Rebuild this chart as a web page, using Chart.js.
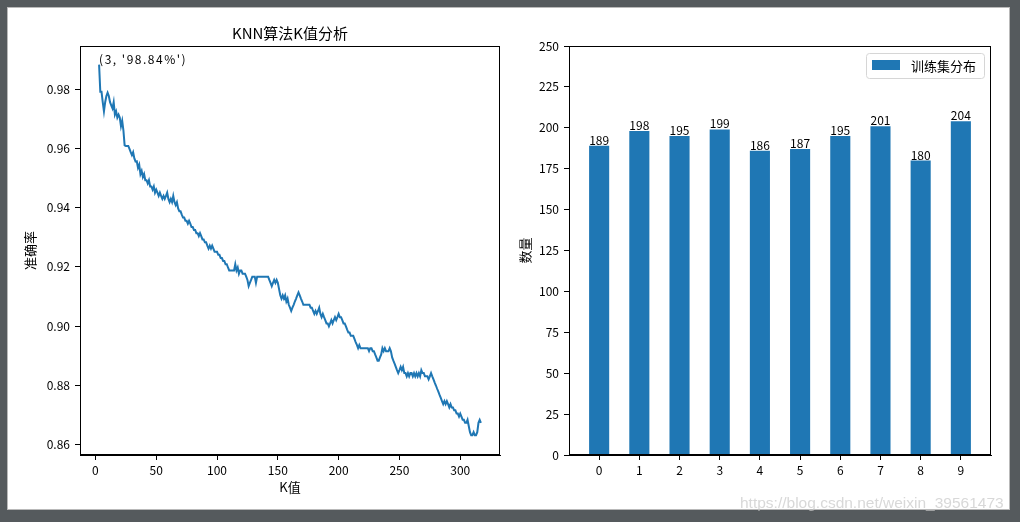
<!DOCTYPE html>
<html>
<head>
<meta charset="utf-8">
<script src="https://cdn.jsdelivr.net/npm/chart.js@4.4.1/dist/chart.umd.min.js"></script>
<style>
    html, body { margin: 0; padding: 0; }
    body { width: 1020px; height: 522px; background: #555a5d; position: relative; overflow: hidden; }
    #frame { position: absolute; left: 7px; top: 7px; width: 1001px; height: 501px; background: #fff; border: 1px solid #b9b9b9; }
    .wrap { position: absolute; top: 0; }
    #left-wrap { left: 0; }
    #right-wrap { left: 504px; }
    #watermark {
        position: absolute; left: 740px; top: 494px;
        font: 15.5px "Liberation Sans", Arial, sans-serif;
        color: rgba(200, 200, 200, 0.7); white-space: nowrap;
    }
</style>
</head>
<body>
<div id="frame">
    <div class="wrap" id="left-wrap"><canvas id="knnChart" width="500" height="500"></canvas></div>
    <div class="wrap" id="right-wrap"><canvas id="trainChart" width="496" height="500"></canvas></div>
</div>
<div id="watermark">https://blog.csdn.net/weixin_39561473</div>
<script>
// --- data ---
const kStart = 3;
// accuracy for K = 3 .. 317
const accuracy = [
    0.9884, 0.9792, 0.9792, 0.9757, 0.9726, 0.9757, 0.9778, 0.9789, 0.9778, 0.9757,
    0.9746, 0.9736, 0.9757, 0.9715, 0.9726, 0.9705, 0.9715, 0.9705, 0.9676, 0.9694,
    0.9662, 0.9611, 0.9609, 0.9609, 0.9609, 0.9599, 0.9588, 0.9578, 0.9588, 0.9567,
    0.9556, 0.9557, 0.9535, 0.9546, 0.9514, 0.9525, 0.9504, 0.9514, 0.9493, 0.9493,
    0.9482, 0.9493, 0.9472, 0.9472, 0.9461, 0.9472, 0.9451, 0.9461, 0.9451, 0.9440,
    0.9451, 0.9440, 0.9430, 0.9440, 0.9430, 0.9440, 0.9451, 0.9430, 0.9419, 0.9430,
    0.9419, 0.9440, 0.9419, 0.9409, 0.9419, 0.9398, 0.9388, 0.9388, 0.9377, 0.9367,
    0.9367, 0.9356, 0.9356, 0.9346, 0.9356, 0.9346, 0.9335, 0.9335, 0.9325, 0.9325,
    0.9314, 0.9314, 0.9304, 0.9314, 0.9304, 0.9293, 0.9293, 0.9283, 0.9283, 0.9272,
    0.9262, 0.9272, 0.9262, 0.9272, 0.9262, 0.9251, 0.9251, 0.9251, 0.9241, 0.9241,
    0.9230, 0.9230, 0.9220, 0.9220, 0.9209, 0.9209, 0.9198, 0.9188, 0.9188, 0.9188,
    0.9188, 0.9188, 0.9209, 0.9188, 0.9198, 0.9177, 0.9188, 0.9188, 0.9177, 0.9177,
    0.9177, 0.9167, 0.9156, 0.9135, 0.9146, 0.9156, 0.9167, 0.9167, 0.9167, 0.9146,
    0.9167, 0.9167, 0.9167, 0.9167, 0.9167, 0.9167, 0.9167, 0.9167, 0.9167, 0.9167,
    0.9156, 0.9146, 0.9135, 0.9146, 0.9156, 0.9146, 0.9156, 0.9146, 0.9125, 0.9104,
    0.9093, 0.9104, 0.9093, 0.9104, 0.9083, 0.9093, 0.9072, 0.9062, 0.9051, 0.9062,
    0.9072, 0.9083, 0.9093, 0.9104, 0.9114, 0.9104, 0.9093, 0.9083, 0.9072, 0.9072,
    0.9072, 0.9072, 0.9072, 0.9072, 0.9062, 0.9062, 0.9051, 0.9041, 0.9051, 0.9041,
    0.9051, 0.9062, 0.9041, 0.9030, 0.9041, 0.9030, 0.9020, 0.9009, 0.9009, 0.8999,
    0.9009, 0.9020, 0.9009, 0.9020, 0.9030, 0.9020, 0.9030, 0.9041, 0.9030, 0.9030,
    0.9020, 0.9009, 0.9009, 0.8999, 0.8988, 0.8978, 0.8978, 0.8967, 0.8967, 0.8967,
    0.8957, 0.8946, 0.8936, 0.8925, 0.8936, 0.8925, 0.8925, 0.8925, 0.8925, 0.8925,
    0.8925, 0.8925, 0.8915, 0.8925, 0.8925, 0.8915, 0.8915, 0.8904, 0.8894, 0.8883,
    0.8883, 0.8894, 0.8904, 0.8925, 0.8915, 0.8925, 0.8915, 0.8915, 0.8915, 0.8925,
    0.8915, 0.8894, 0.8883, 0.8873, 0.8862, 0.8851, 0.8841, 0.8851, 0.8862, 0.8851,
    0.8862, 0.8841, 0.8841, 0.8830, 0.8841, 0.8830, 0.8841, 0.8841, 0.8830, 0.8841,
    0.8830, 0.8841, 0.8830, 0.8841, 0.8830, 0.8851, 0.8841, 0.8841, 0.8830, 0.8830,
    0.8830, 0.8820, 0.8830, 0.8841, 0.8830, 0.8820, 0.8809, 0.8799, 0.8788, 0.8778,
    0.8767, 0.8757, 0.8746, 0.8736, 0.8746, 0.8736, 0.8746, 0.8736, 0.8725, 0.8736,
    0.8725, 0.8725, 0.8715, 0.8715, 0.8704, 0.8704, 0.8694, 0.8704, 0.8694, 0.8683,
    0.8683, 0.8673, 0.8673, 0.8683, 0.8662, 0.8641, 0.8631, 0.8631, 0.8641, 0.8631,
    0.8631, 0.8641, 0.8673, 0.8683, 0.8673
];
const kValues = accuracy.map((_, i) => kStart + i);
const kTicks = [0, 50, 100, 150, 200, 250, 300];
const accTicks = [0.86, 0.88, 0.90, 0.92, 0.94, 0.96, 0.98];

const digits = [0, 1, 2, 3, 4, 5, 6, 7, 8, 9];
const trainCounts = [189, 198, 195, 199, 186, 187, 195, 201, 180, 204];
const countTicks = [0, 25, 50, 75, 100, 125, 150, 175, 200, 225, 250];

const BLUE = '#1f77b4';
const FONT = '"Noto Sans CJK SC", "DejaVu Sans", sans-serif';

Chart.defaults.font.family = FONT;
Chart.defaults.font.size = 12;
Chart.defaults.color = '#000';
Chart.defaults.animation = false;

// matplotlib-style closed axes box
const axesBox = {
    id: 'axesBox',
    afterDraw(chart) {
        const { ctx, chartArea: a } = chart;
        ctx.save();
        ctx.strokeStyle = '#000';
        ctx.lineWidth = 1;
        ctx.strokeRect(Math.round(a.left) + 0.5, Math.round(a.top) + 0.5,
            Math.round(a.right - a.left) - 1, Math.round(a.bottom - a.top) - 1);
        ctx.restore();
    }
};

const leftTitle = {
    id: 'leftTitle',
    afterDraw(chart) {
        const { ctx, chartArea: a } = chart;
        ctx.save();
        ctx.font = '15px ' + FONT;
        ctx.fillStyle = '#000';
        ctx.textAlign = 'center';
        ctx.textBaseline = 'middle';
        ctx.fillText('KNN算法K值分析', (a.left + a.right) / 2, 25);
        ctx.restore();
    }
};

// "(k, 'acc%')" note at the best K
const bestNote = {
    id: 'bestNote',
    afterDatasetsDraw(chart) {
        let best = 0;
        accuracy.forEach((v, i) => { if (v > accuracy[best]) best = i; });
        const x = chart.scales.x.getPixelForValue(kValues[best]);
        const y = chart.scales.y.getPixelForValue(accuracy[best]);
        const { ctx } = chart;
        ctx.save();
        ctx.font = '12px ' + FONT;
        ctx.letterSpacing = '1.5px';
        ctx.fillStyle = '#000';
        ctx.textAlign = 'left';
        ctx.textBaseline = 'alphabetic';
        ctx.fillText(`(${kValues[best]}, '${(accuracy[best] * 100).toFixed(2)}%')`, x, y - 1);
        ctx.restore();
    }
};

const barValues = {
    id: 'barValues',
    afterDatasetsDraw(chart) {
        const { ctx } = chart;
        const meta = chart.getDatasetMeta(0);
        ctx.save();
        ctx.font = '12px ' + FONT;
        ctx.fillStyle = '#000';
        ctx.textAlign = 'center';
        ctx.textBaseline = 'alphabetic';
        meta.data.forEach((bar, i) => {
            ctx.fillText(String(trainCounts[i]), bar.x, bar.y - 1);
        });
        ctx.restore();
    }
};

const boxLegend = {
    id: 'boxLegend',
    afterDraw(chart) {
        const { ctx, chartArea: a } = chart;
        const ds = chart.data.datasets[0];
        ctx.save();
        ctx.font = '13px ' + FONT;
        const tw = ctx.measureText(ds.label).width;
        const w = 6 + 28 + 11 + tw + 8;
        const h = 25;
        const x0 = a.right - 7 - w;
        const y0 = a.top + 7;
        ctx.beginPath();
        ctx.roundRect(x0 + 0.5, y0 + 0.5, w, h, 3);
        ctx.fillStyle = 'rgba(255,255,255,0.8)';
        ctx.fill();
        ctx.strokeStyle = '#d6d6d6';
        ctx.lineWidth = 1;
        ctx.stroke();
        ctx.fillStyle = ds.backgroundColor;
        ctx.fillRect(x0 + 6, y0 + 7, 28, 10);
        ctx.fillStyle = '#000';
        ctx.textBaseline = 'middle';
        ctx.fillText(ds.label, x0 + 45, y0 + h / 2 + 1);
        ctx.restore();
    }
};

const tickGrid = { drawOnChartArea: false, tickLength: 5, color: '#000', tickWidth: 1 };

new Chart(document.getElementById('knnChart'), {
    type: 'line',
    data: {
        datasets: [{
            label: '准确率',
            data: kValues.map((k, i) => ({ x: k, y: accuracy[i] })),
            borderColor: BLUE,
            borderWidth: 2,
            pointRadius: 0,
            tension: 0,
            fill: false
        }]
    },
    options: {
        responsive: false,
        animation: false,
        layout: { padding: { top: 38, right: 8, left: 0, bottom: 0 } },
        plugins: { legend: { display: false }, tooltip: { enabled: false } },
        scales: {
            x: {
                type: 'linear',
                min: -12.7,
                max: 332.7,
                afterBuildTicks: axis => { axis.ticks = kTicks.map(v => ({ value: v })); },
                afterFit: scale => { scale.height = 53; },
                grid: tickGrid,
                border: { color: '#000' },
                ticks: { padding: 3, maxRotation: 0, autoSkip: false, callback: v => String(v) },
                title: { display: true, text: 'K值', font: { size: 13 }, padding: { top: 0, bottom: 13 } }
            },
            y: {
                type: 'linear',
                min: 0.8564,
                max: 0.9947,
                afterBuildTicks: axis => { axis.ticks = accTicks.map(v => ({ value: v })); },
                afterFit: scale => { scale.width = 72; },
                grid: tickGrid,
                border: { color: '#000' },
                ticks: { padding: 5, autoSkip: false, callback: v => Number(v).toFixed(2) },
                title: { display: true, text: '准确率', font: { size: 13 }, padding: { top: 14, bottom: 0 } }
            }
        }
    },
    plugins: [axesBox, leftTitle, bestNote]
});

new Chart(document.getElementById('trainChart'), {
    type: 'bar',
    data: {
        datasets: [{
            label: '训练集分布',
            data: digits.map((d, i) => ({ x: d, y: trainCounts[i] })),
            backgroundColor: BLUE,
            barPercentage: 0.5,
            categoryPercentage: 1.0
        }]
    },
    options: {
        responsive: false,
        animation: false,
        layout: { padding: { top: 38, right: 17, left: 0, bottom: 0 } },
        plugins: { legend: { display: false }, tooltip: { enabled: false } },
        scales: {
            x: {
                type: 'linear',
                min: -0.75,
                max: 9.75,
                offset: false,
                afterBuildTicks: axis => { axis.ticks = digits.map(v => ({ value: v })); },
                afterFit: scale => { scale.height = 53; },
                grid: { ...tickGrid, offset: false },
                border: { color: '#000' },
                ticks: { padding: 3, maxRotation: 0, autoSkip: false, callback: v => String(v) }
            },
            y: {
                type: 'linear',
                min: 0,
                max: 250,
                afterBuildTicks: axis => { axis.ticks = countTicks.map(v => ({ value: v })); },
                afterFit: scale => { scale.width = 57; },
                grid: tickGrid,
                border: { color: '#000' },
                ticks: { padding: 5, autoSkip: false },
                title: { display: true, text: '数量', font: { size: 13 }, padding: { top: 5, bottom: 0 } }
            }
        }
    },
    plugins: [axesBox, barValues, boxLegend]
});
</script>
</body>
</html>
